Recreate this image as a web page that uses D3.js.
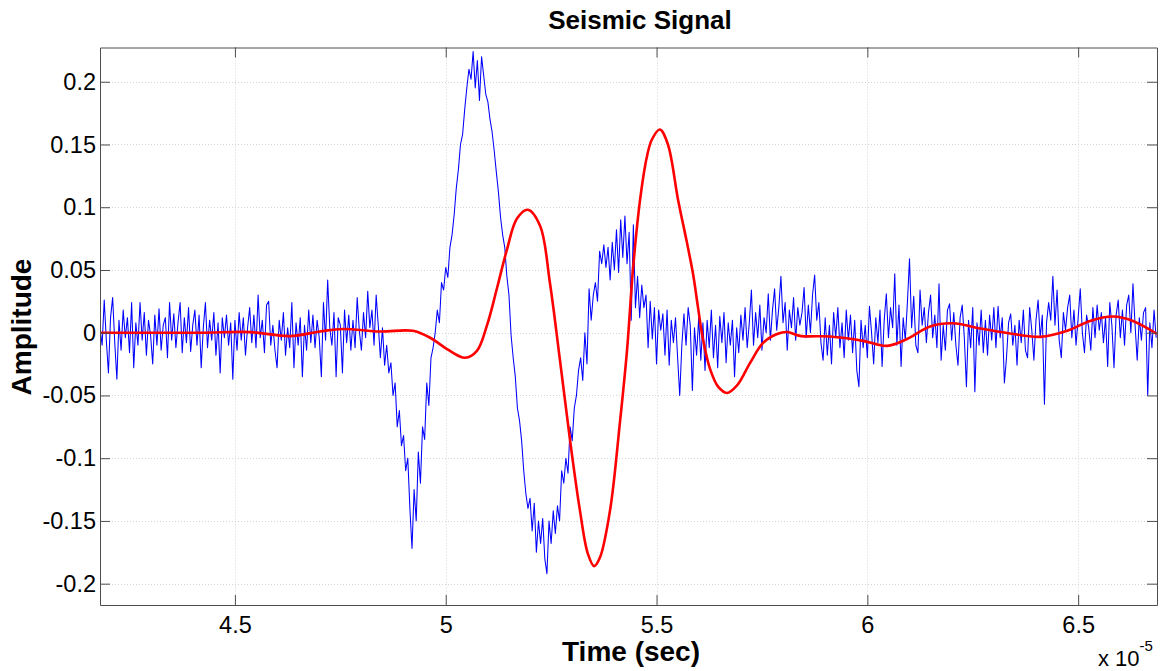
<!DOCTYPE html>
<html><head><meta charset="utf-8">
<script src="https://cdn.jsdelivr.net/npm/d3@7"></script>
<style>
body{margin:0;background:#fff;}
text{font-family:"Liberation Sans",Arial,Helvetica,sans-serif;}
</style>
</head><body>
<svg id="chart" width="1171" height="671"></svg>
<script>
// Time axis in units of 1e-5 s
const tStart = 4.18, tStep = 0.005;
const blueSignal = [
0.004,-0.010,0.026,-0.006,-0.032,0.012,0.028,-0.008,-0.037,0.010,-0.014,0.018,-0.004,0.012,-0.016,0.024,-0.028,0.008,-0.010,0.024,
-0.006,0.016,-0.018,0.010,-0.002,-0.025,0.014,-0.010,0.019,-0.014,0.006,0.012,-0.020,0.024,-0.006,0.015,-0.012,0.008,0.024,-0.016,
0.012,-0.008,0.020,-0.015,0.006,0.018,-0.010,0.014,-0.028,0.004,0.024,-0.012,0.010,-0.006,0.016,-0.018,0.008,-0.032,0.012,-0.004,
0.014,-0.010,0.008,-0.037,0.010,-0.014,0.016,-0.006,0.012,-0.018,0.004,0.020,-0.008,0.014,-0.012,0.030,-0.004,0.010,-0.016,0.022,
0.025,-0.010,0.006,-0.014,-0.028,0.010,-0.006,0.016,-0.018,0.004,-0.012,0.024,-0.028,0.008,-0.010,0.012,-0.035,0.006,-0.014,0.018,
-0.008,0.014,-0.012,0.010,-0.004,-0.035,0.024,-0.006,0.042,0.004,-0.010,0.016,-0.035,0.012,0.006,-0.032,0.018,-0.008,0.014,-0.014,
0.010,-0.012,0.028,0.002,-0.014,0.016,-0.004,0.033,0.004,0.018,-0.010,0.030,0.006,-0.020,0.004,-0.026,-0.010,-0.032,-0.024,-0.050,
-0.040,-0.075,-0.062,-0.090,-0.082,-0.110,-0.100,-0.140,-0.172,-0.125,-0.150,-0.095,-0.120,-0.075,-0.085,-0.040,-0.058,-0.020,-0.012,0.000,
0.018,0.008,0.040,0.034,0.052,0.044,0.068,0.078,0.094,0.115,0.130,0.150,0.158,0.178,0.195,0.210,0.202,0.224,0.195,0.217,
0.185,0.220,0.205,0.190,0.184,0.170,0.160,0.145,0.128,0.112,0.092,0.078,0.068,0.045,0.030,-0.002,-0.020,-0.035,-0.060,-0.070,
-0.086,-0.110,-0.128,-0.140,-0.132,-0.158,-0.136,-0.175,-0.150,-0.168,-0.148,-0.180,-0.192,-0.150,-0.168,-0.142,-0.160,-0.138,-0.150,-0.110,
-0.120,-0.100,-0.112,-0.075,-0.086,-0.060,-0.050,-0.030,-0.020,-0.038,0.000,-0.025,0.035,0.010,0.030,0.040,0.025,0.065,0.055,0.070,
0.052,0.068,0.042,0.072,0.050,0.082,0.048,0.090,0.060,0.093,0.055,0.080,0.010,0.086,0.020,0.045,0.012,0.038,0.020,0.030,
-0.012,0.025,-0.005,0.020,-0.025,0.018,0.002,0.015,-0.018,0.018,-0.026,0.010,-0.008,0.012,-0.020,-0.050,-0.010,0.015,-0.010,0.020,
0.006,-0.046,0.004,-0.018,0.012,-0.022,0.008,-0.030,0.010,-0.012,0.018,-0.020,0.006,-0.028,0.013,-0.008,0.016,-0.024,0.008,-0.010,
0.010,-0.035,0.004,-0.016,0.014,-0.006,0.020,-0.012,0.008,0.034,-0.010,0.016,-0.004,0.022,-0.014,0.012,0.000,0.031,-0.006,0.018,
0.035,0.002,0.020,0.045,0.008,0.024,-0.014,0.018,0.004,0.028,-0.006,0.020,0.006,0.016,0.036,-0.004,0.022,0.000,0.030,0.046,
0.010,0.024,-0.008,-0.022,0.012,-0.018,0.006,-0.025,0.016,-0.004,0.020,-0.012,0.008,-0.020,0.018,-0.006,0.014,-0.016,0.010,-0.030,
-0.043,0.010,-0.012,0.006,-0.020,0.021,0.000,-0.025,0.012,-0.008,0.018,-0.027,0.010,0.031,-0.004,0.020,0.004,0.047,-0.010,0.022,
-0.027,0.012,-0.006,0.024,0.059,0.004,0.029,-0.010,-0.016,0.034,0.006,0.020,-0.008,0.016,0.030,-0.004,0.014,-0.012,0.039,-0.022,
0.006,-0.014,0.018,0.023,-0.006,0.016,-0.010,-0.026,0.012,0.022,-0.004,-0.043,0.010,-0.012,0.020,-0.047,0.008,-0.010,0.018,-0.016,
0.010,-0.018,0.014,-0.006,0.020,-0.012,0.021,-0.004,0.012,-0.040,-0.020,0.008,0.015,-0.010,0.006,-0.026,0.010,-0.008,0.018,-0.014,
-0.020,0.020,0.002,-0.022,0.010,0.026,-0.004,0.014,-0.057,0.008,0.024,0.010,0.045,0.006,0.034,-0.006,-0.020,0.016,0.002,0.020,
0.030,-0.004,0.018,-0.010,0.012,0.035,0.000,-0.016,0.014,0.004,-0.014,0.020,-0.004,0.022,0.002,0.016,-0.008,0.012,-0.027,0.024,
0.006,-0.028,0.014,0.026,-0.004,0.018,-0.010,0.022,0.030,0.000,0.039,0.006,-0.022,0.012,-0.006,0.016,0.020,-0.050,0.008,-0.012,
0.018,-0.004
];
const redT = [4.180,4.417,4.536,4.630,4.702,4.756,4.844,4.922,4.963,5.003,5.046,5.074,5.098,5.122,5.145,5.169,5.195,5.224,5.247,5.271,
5.295,5.318,5.337,5.352,5.366,5.390,5.413,5.430,5.444,5.461,5.477,5.489,5.508,5.527,5.551,5.572,5.587,5.598,5.610,5.627,
5.646,5.667,5.691,5.722,5.753,5.786,5.810,5.840,5.912,5.990,6.047,6.094,6.149,6.203,6.268,6.339,6.410,6.474,6.528,6.583,6.630,6.687];
const redV = [0,0,0.0005,-0.0027,0.001,0.003,0.001,0.0015,-0.004,-0.013,-0.020,-0.0145,0.006,0.036,0.066,0.091,0.098,0.085,0.040,-0.022,
-0.086,-0.141,-0.176,-0.186,-0.179,-0.141,-0.072,-0.014,0.050,0.106,0.140,0.154,0.162,0.150,0.106,0.072,0.046,0.021,-0.005,-0.029,
-0.043,-0.048,-0.042,-0.024,-0.008,-0.001,0.0006,-0.0025,-0.003,-0.0065,-0.0105,-0.005,0.005,0.0075,0.0033,-0.0006,-0.0033,0.0015,0.0094,0.0129,0.0094,-0.001];
const xTicks = [4.5,5,5.5,6,6.5];
const xTickLabels = ["4.5","5","5.5","6","6.5"];
const yTicks = [-0.2,-0.15,-0.1,-0.05,0,0.05,0.1,0.15,0.2];
const yTickLabels = ["-0.2","-0.15","-0.1","-0.05","0","0.05","0.1","0.15","0.2"];
const titleText = "Seismic Signal", xLabel = "Time (sec)", yLabel = "Amplitude";

const L = 100, R = 1157, T = 47.5, B = 605;
const svg = d3.select("#chart");
const x = d3.scaleLinear().domain([4.18, 6.687]).range([L, R]);
const y = d3.scaleLinear().domain([-0.217, 0.2273]).range([B, T]);

// grid
const grid = svg.append("g").attr("stroke", "#d4d4d4").attr("stroke-width", 1).attr("stroke-dasharray", "1,2");
xTicks.forEach(t => grid.append("line").attr("x1", Math.round(x(t))+0.5).attr("x2", Math.round(x(t))+0.5).attr("y1", T).attr("y2", B));
yTicks.forEach(t => grid.append("line").attr("y1", Math.round(y(t))+0.5).attr("y2", Math.round(y(t))+0.5).attr("x1", L).attr("x2", R));

svg.append("clipPath").attr("id", "clip").append("rect").attr("x", L).attr("y", T).attr("width", R-L).attr("height", B-T);

const blueData = blueSignal.map((v, i) => [tStart + i*tStep, v]);
svg.append("path").datum(blueData).attr("clip-path", "url(#clip)")
  .attr("fill", "none").attr("stroke", "#0000ff").attr("stroke-width", 1.05).attr("stroke-linejoin", "round")
  .attr("d", d3.line().x(d => x(d[0])).y(d => y(d[1])));

const redData = redT.map((t, i) => [t, redV[i]]);
svg.append("path").datum(redData).attr("clip-path", "url(#clip)")
  .attr("fill", "none").attr("stroke", "#ff0000").attr("stroke-width", 2.6)
  .attr("d", d3.line().curve(d3.curveCatmullRom.alpha(0.5)).x(d => x(d[0])).y(d => y(d[1])));

// axes
function styleAxis(g){ g.selectAll("path.domain").attr("stroke", "#4d4d4d"); g.selectAll(".tick line").attr("stroke", "#4d4d4d"); }
const fmtX = d => xTickLabels[xTicks.indexOf(d)];
const fmtY = d => yTickLabels[yTicks.indexOf(d)];
svg.append("g").attr("transform", `translate(0,${B})`)
  .call(d3.axisBottom(x).tickValues(xTicks).tickFormat(fmtX).tickSizeInner(-10).tickSizeOuter(0).tickPadding(11))
  .call(styleAxis).call(g => g.selectAll("text").attr("font-size", 23.5).attr("fill", "#000").style("font-family", '"Liberation Sans",Arial,sans-serif'));
svg.append("g").attr("transform", `translate(0,${T})`)
  .call(d3.axisTop(x).tickValues(xTicks).tickFormat("").tickSizeInner(-10).tickSizeOuter(0)).call(styleAxis);
svg.append("g").attr("transform", `translate(${L},0)`)
  .call(d3.axisLeft(y).tickValues(yTicks).tickFormat(fmtY).tickSizeInner(-10).tickSizeOuter(0).tickPadding(4))
  .call(styleAxis).call(g => g.selectAll("text").attr("font-size", 23.5).attr("fill", "#000").style("font-family", '"Liberation Sans",Arial,sans-serif'));
svg.append("g").attr("transform", `translate(${R},0)`)
  .call(d3.axisRight(y).tickValues(yTicks).tickFormat("").tickSizeInner(-10).tickSizeOuter(0)).call(styleAxis);

// titles
svg.append("text").attr("x", 640).attr("y", 29).attr("text-anchor", "middle")
  .attr("font-size", 26).attr("font-weight", "bold").text(titleText);
svg.append("text").attr("x", 631).attr("y", 661).attr("text-anchor", "middle")
  .attr("font-size", 28).attr("font-weight", "bold").text(xLabel);
svg.append("text").attr("transform", "translate(31,327) rotate(-90)").attr("text-anchor", "middle")
  .attr("font-size", 28).attr("font-weight", "bold").text(yLabel);
// exponent
const ex = svg.append("text").attr("x", 1098).attr("y", 666).attr("font-size", 22);
ex.append("tspan").text("x 10");
ex.append("tspan").attr("font-size", 15).attr("dy", -15).text("-5");
</script>
</body></html>
